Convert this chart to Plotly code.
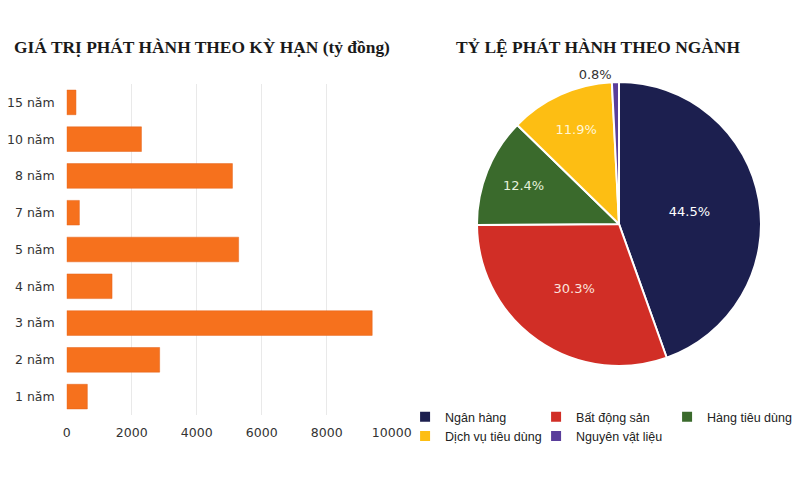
import plotly.graph_objects as go

# kỳ hạn (tỷ đồng)
terms = ["1 năm", "2 năm", "3 năm", "4 năm", "5 năm", "7 năm", "8 năm", "10 năm", "15 năm"]
term_values = [635, 2860, 9400, 1395, 5290, 390, 5100, 2300, 285]

# tỷ lệ theo ngành (%)
sectors = ["Ngân hàng", "Bất động sản", "Hàng tiêu dùng", "Dịch vụ tiêu dùng", "Nguyên vật liệu"]
sector_share = [44.5, 30.3, 12.4, 11.9, 0.8]
sector_colors = ["#1C1F4F", "#D12E26", "#3A6A2C", "#FDBE13", "#5A3E9B"]
text_colors = ["#FFFFFF", "#FBE3DE", "#E6F1DC", "#FFF6D8", "#333333"]

x_ticks = [0, 2000, 4000, 6000, 8000, 10000]

W, H = 800, 482
R_MARGIN = 2
PW = W - R_MARGIN  # plot area width


def fx(px):
    return px / PW


def fy(py):
    return (H - py) / H


fig = go.Figure()

fig.add_trace(go.Bar(
    x=term_values, y=terms, orientation="h",
    marker=dict(color="#F6711D", line=dict(color="#E5621A", width=0.5)),
    showlegend=False, hoverinfo="x+y",
))

fig.add_trace(go.Pie(
    labels=sectors, values=sector_share,
    sort=False, direction="clockwise", rotation=0,
    marker=dict(colors=sector_colors, line=dict(color="white", width=2)),
    texttemplate="%{value:.1f}%",
    textposition=["inside", "inside", "inside", "inside", "outside"],
    insidetextorientation="horizontal",
    textfont=dict(family="DejaVu Sans", size=13, color=text_colors),
    domain=dict(x=[fx(619 - 142), fx(619 + 142)], y=[fy(366), fy(82)]),
    showlegend=True,
))

fig.update_layout(
    width=W, height=H,
    margin=dict(l=0, r=R_MARGIN, t=0, b=0, autoexpand=False),
    paper_bgcolor="white", plot_bgcolor="white",
    bargap=0.33,
    xaxis=dict(
        domain=[fx(66.7), fx(391.7)], range=[0, 10000],
        tickvals=x_ticks, tickformat="d",
        showgrid=True, gridcolor="#E9E9E9", gridwidth=1,
        zeroline=False, showline=False, ticks="", ticklabelstandoff=8,
        tickfont=dict(family="DejaVu Sans", size=12.5, color="#333333"),
    ),
    yaxis=dict(
        domain=[fy(415), fy(84)],
        categoryorder="array", categoryarray=terms,
        showgrid=False, zeroline=False, showline=False, ticks="", ticklabelstandoff=11,
        tickfont=dict(family="DejaVu Sans", size=12.5, color="#333333"),
    ),
    # legend sits just right of the plot area so it wraps at half width (3 + 2 rows)
    legend=dict(
        orientation="h", x=1.0001, y=fy(402), xanchor="right", yanchor="top",
        entrywidth=86, entrywidthmode="pixels",
        bgcolor="rgba(0,0,0,0)",
        font=dict(family="Liberation Sans", size=12.5, color="#222222"),
    ),
    annotations=[
        dict(text="<b>GIÁ TRỊ PHÁT HÀNH THEO KỲ HẠN (tỷ đồng)</b>",
             x=fx(202), y=fy(47), xref="paper", yref="paper",
             xanchor="center", yanchor="middle", showarrow=False,
             font=dict(family="Liberation Serif", size=17.4, color="#1A1A1A")),
        dict(text="<b>TỶ LỆ PHÁT HÀNH THEO NGÀNH</b>",
             x=fx(598), y=fy(47), xref="paper", yref="paper",
             xanchor="center", yanchor="middle", showarrow=False,
             font=dict(family="Liberation Serif", size=17.4, color="#1A1A1A")),
    ],
)

fig.write_html("out.html", config={"displayModeBar": False},
               post_script="document.body.style.margin='0';")
